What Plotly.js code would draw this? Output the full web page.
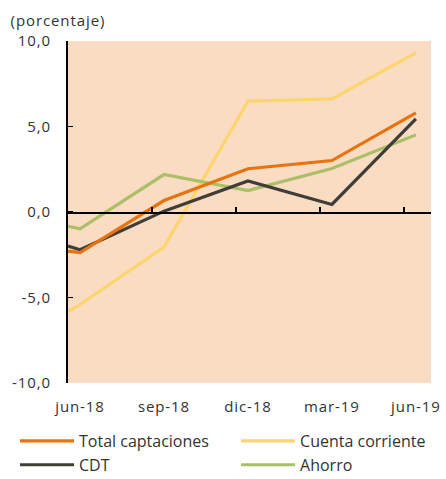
<!DOCTYPE html>
<html><head><meta charset="utf-8">
<script src="https://cdn.plot.ly/plotly-3.0.1.min.js"></script>
<style>html,body{margin:0;padding:0;background:#fff}#chart{width:446px;height:479px}
#chart .xtick text, #chart .ytick text, #chart .annotation-text{letter-spacing:0.9px}</style>
</head><body><div id="chart"></div>
<script>
// Period positions (quarters since jun-18; first value is a partial-period start point)
var periodo = [-0.143, 0, 1, 2, 3, 4];
var tickLabels = ['jun-18', 'sep-18', 'dic-18', 'mar-19', 'jun-19'];
var tickPos = [0, 1, 2, 3, 4];
var totalCaptaciones = [-2.29, -2.38, 0.67, 2.53, 3.01, 5.80];
var cuentaCorriente = [-5.82, -5.41, -2.05, 6.48, 6.62, 9.31];
var cdt = [-1.99, -2.21, 0.05, 1.82, 0.44, 5.45];
var ahorro = [-0.83, -0.98, 2.19, 1.25, 2.54, 4.51];
var yTicks = [-10, -5, 0, 5, 10];
var yTickLabels = ['-10,0', '-5,0', '0,0', '5,0', '10,0'];

var FONT = '"Open Sans", sans-serif';
function tr(name, y, color, leg, rank) {
  return {x: periodo, y: y, name: name, type: 'scatter', mode: 'lines', legend: leg, legendrank: rank,
    line: {color: color, width: 3.2}, hoverinfo: 'skip'};
}
var data = [
  tr('Cuenta corriente', cuentaCorriente, '#FCD56E', 'legend2', 1),
  tr('Ahorro', ahorro, '#ABBE68', 'legend2', 2),
  tr('CDT', cdt, '#403C38', 'legend', 2),
  tr('Total captaciones', totalCaptaciones, '#E8730E', 'legend', 1)
];
var sepTicks = [0.857, 1.857, 2.857, 3.857];
var legBase = {orientation: 'v', traceorder: 'normal', y: -0.12, xanchor: 'left', yanchor: 'top',
  font: {size: 16, color: '#333'}, itemwidth: 54, tracegroupgap: 0, bgcolor: 'rgba(0,0,0,0)'};
var layout = {
  width: 446, height: 479,
  margin: {l: 68, r: 15, t: 41, b: 96, autoexpand: false},
  paper_bgcolor: '#ffffff', plot_bgcolor: '#F9DCC2',
  font: {family: FONT, size: 15, color: '#333333'},
  showlegend: true,
  legend: Object.assign({}, legBase, {x: -0.146}),
  legend2: Object.assign({}, legBase, {x: 0.463}),
  xaxis: {range: [-0.143, 4.18], tickvals: tickPos, ticktext: tickLabels, showgrid: false, zeroline: false,
    showline: false, ticks: 'outside', ticklen: 10, tickcolor: 'rgba(0,0,0,0)', tickfont: {size: 15, color: '#333'}, fixedrange: true},
  xaxis2: {overlaying: 'x', anchor: 'free', position: 0.5, matches: 'x', range: [-0.143, 4.18], tickvals: sepTicks,
    showticklabels: false, ticks: 'inside', ticklen: 5, tickwidth: 1.5, tickcolor: '#000', showline: true,
    linecolor: '#000', linewidth: 1.5, showgrid: false, zeroline: false, side: 'bottom'},
  yaxis: {range: [-10, 10], tickvals: yTicks, ticktext: yTickLabels, showgrid: false, zeroline: false,
    showline: true, linecolor: '#000', linewidth: 2, ticks: 'inside', ticklen: 5, tickwidth: 1.5, tickcolor: '#000',
    ticklabelstandoff: 12, tickfont: {size: 15, color: '#333'}, fixedrange: true},
  annotations: [{text: '(porcentaje)', xref: 'paper', yref: 'paper', x: -0.15, y: 1.06, xanchor: 'left', yanchor: 'middle',
    showarrow: false, font: {size: 15, color: '#333'}}]
};
data.push({x: [0], y: [0], xaxis: 'x2', yaxis: 'y', mode: 'none', showlegend: false, hoverinfo: 'skip'});
Plotly.newPlot('chart', data, layout, {staticPlot: true});
</script></body></html>
